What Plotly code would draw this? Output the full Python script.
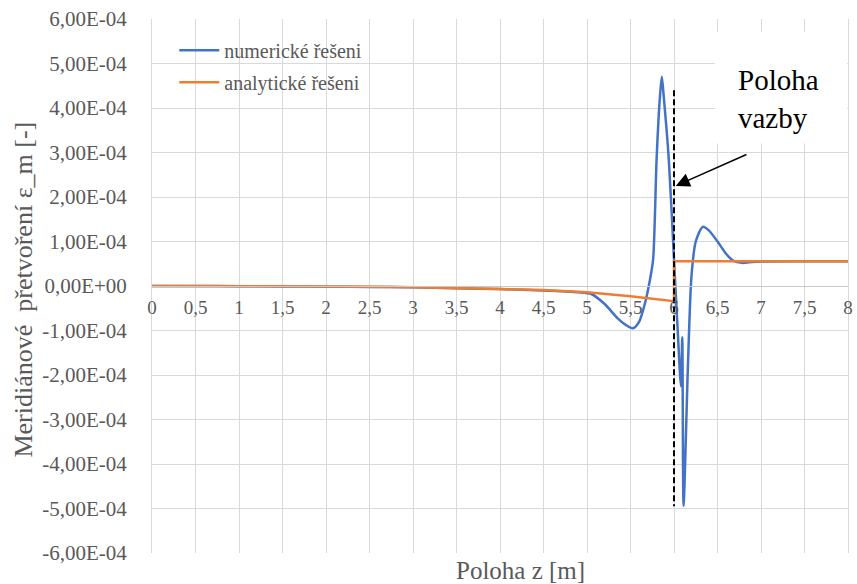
import plotly.graph_objects as go

# Strain values are stored in units of 1e-4
SCALE = 1e-4

# numerical solution (FEM)
num_z = [0, 0.5, 1, 1.5, 2, 2.5, 3, 3.5, 4, 4.5, 4.9, 5.05, 5.2, 5.35, 5.45, 5.53,
         5.6, 5.67, 5.72, 5.76, 5.8, 5.84, 5.86, 5.88, 5.94, 6.0, 6.04, 6.08, 6.095,
         6.11, 6.16, 6.2, 6.25, 6.33, 6.4, 6.5, 6.6, 6.68, 6.78, 6.9, 7.0, 7.5, 8]
num_eps = [0, 0, -0.005, -0.01, -0.015, -0.02, -0.03, -0.05, -0.07, -0.1, -0.14, -0.18,
           -0.4, -0.72, -0.88, -0.95, -0.8, -0.36, 0.1, 0.6, 2.85, 4.3, 4.7, 4.3, 2.85,
           0.6, -0.9, -2.25, -1.15, -4.94, -1.8, 0.2, 1.0, 1.33, 1.25, 1.0, 0.72, 0.57,
           0.52, 0.54, 0.55, 0.555, 0.555]

# analytical solution
ana_z = [0, 1, 2, 2.5, 3, 3.5, 4, 4.5, 5, 5.5, 6, 6, 7, 8]
ana_eps = [0, 0, -0.01, -0.015, -0.03, -0.045, -0.065, -0.09, -0.14, -0.23, -0.34,
           0.555, 0.555, 0.555]

# support position marker
support_z = 6
support_eps = [4.4, -4.95]

x_ticks = [0, 0.5, 1, 1.5, 2, 2.5, 3, 3.5, 4, 4.5, 5, 5.5, 6, 6.5, 7, 7.5, 8]
y_ticks = [6, 5, 4, 3, 2, 1, 0, -1, -2, -3, -4, -5, -6]
y_tick_text = [f"{v * SCALE:.2E}".replace(".", ",") for v in y_ticks]

FONT = "Liberation Serif, Times New Roman, serif"
GREY = "#595959"
GRID = "#d9d9d9"

fig = go.Figure()
fig.add_trace(go.Scatter(
    x=num_z, y=[v * SCALE for v in num_eps], mode="lines",
    name="numerické řešeni", legendgroup="a",
    line=dict(color="#4472C4", width=2.5, shape="spline", smoothing=0.7)))
fig.add_trace(go.Scatter(
    x=ana_z, y=[v * SCALE for v in ana_eps], mode="lines",
    name="analytické řešeni", legendgroup="b",
    line=dict(color="#ED7D31", width=2.5)))
fig.add_trace(go.Scatter(
    x=[support_z, support_z], y=[v * SCALE for v in support_eps], mode="lines",
    showlegend=False, line=dict(color="black", width=2, dash="6px,3px")))

# white panel behind the label
fig.add_shape(type="rect", xref="x", yref="y", x0=6.47, x1=7.99, y0=3.2e-4, y1=5.7e-4,
              fillcolor="white", line=dict(width=0), layer="above")

fig.add_annotation(x=6.71, y=4.2e-4, xref="x", yref="y", text="Poloha<br>vazby",
                   showarrow=False, xanchor="left", yanchor="middle", align="left",
                   font=dict(family=FONT, size=29, color="black"))
fig.add_annotation(x=6.02, y=2.25e-4, ax=6.85, ay=2.97e-4, xref="x", yref="y",
                   axref="x", ayref="y", text="", showarrow=True, arrowhead=2,
                   arrowsize=2, arrowwidth=1.4, arrowcolor="black")

fig.add_annotation(x=0.529, y=-0.032, xref="paper", yref="paper", text="Poloha z [m]",
                   showarrow=False, yanchor="middle",
                   font=dict(family=FONT, size=25, color=GREY))
fig.add_annotation(x=-0.186, y=0.4925, xref="paper", yref="paper",
                   xanchor="center", yanchor="middle",
                   text="Meridiánové  přetvoření ε_m [-]", textangle=-90,
                   showarrow=False, font=dict(family=FONT, size=26, color=GREY))

fig.update_layout(
    width=857, height=584,
    margin=dict(l=152, r=9, t=19, b=31, autoexpand=False),
    paper_bgcolor="white", plot_bgcolor="white",
    separators=", ",
    showlegend=True,
    legend=dict(x=0.032, y=0.978, xanchor="left", yanchor="top", tracegroupgap=3,
                itemwidth=40, bgcolor="rgba(0,0,0,0)",
                font=dict(family=FONT, size=20, color=GREY)),
    xaxis=dict(range=[0, 8], tickvals=x_ticks, anchor="free", position=0.5,
               automargin=False,
               showgrid=True, gridcolor=GRID, gridwidth=1, zeroline=False,
               showline=True, linecolor="#c8c8c8", linewidth=1.2, ticks="",
               ticklabelstandoff=4,
               tickfont=dict(family=FONT, size=19, color=GREY)),
    yaxis=dict(range=[-6e-4, 6e-4], tickvals=[v * SCALE for v in y_ticks],
               automargin=False,
               ticktext=y_tick_text, showgrid=True, gridcolor=GRID, gridwidth=1,
               zeroline=False, showline=True, mirror=True, linecolor=GRID,
               ticks="", ticklabelstandoff=20,
               tickfont=dict(family=FONT, size=21, color=GREY)),
)

fig.write_html("out.html")
